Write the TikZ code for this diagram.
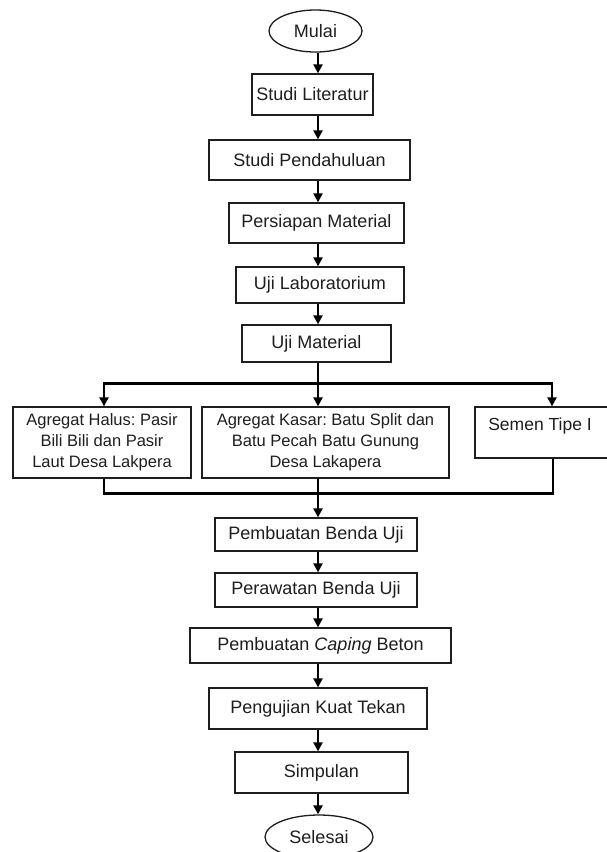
\documentclass[tikz,border=0pt]{standalone}
\usepackage{fontspec}
\setmainfont{Liberation Sans}
\usetikzlibrary{arrows.meta,shapes.geometric}
\definecolor{ink}{HTML}{1E1E1E}
\frenchspacing
\begin{document}
\begin{tikzpicture}[x=1pt,y=-1pt,
  box/.style={draw=ink,line width=1.3pt,rectangle,inner sep=0pt,text=ink,font=\fontsize{18}{21}\selectfont,align=center},
  sbox/.style={box,font=\fontsize{16.5}{21}\selectfont},
  term/.style={draw=ink,line width=1.3pt,ellipse,inner sep=0pt,text=ink,font=\fontsize{18}{21}\selectfont},
  arr/.style={draw=black,line width=2.5pt,-{Triangle[length=9pt,width=9pt]}},
  ln/.style={draw=black,line width=2.5pt}]
\useasboundingbox (0,0) rectangle (607,852);
\clip (0,0) rectangle (607,852);
\fill[white] (0,0) rectangle (607,852);
\coordinate (ax) at (318,0);
\node[term,minimum width=93,minimum height=42] (mulai) at (315.5,31) {Mulai};
\node[box,minimum width=121,minimum height=41] (lit) at (312.5,94.5) {Studi Literatur};
\node[box,minimum width=201,minimum height=40] (pend) at (309.5,160) {Studi Pendahuluan};
\node[box,minimum width=175,minimum height=40] (pers) at (316.5,223) {Persiapan Material};
\node[box,minimum width=168,minimum height=36] (lab) at (320,285) {Uji Laboratorium};
\node[box,minimum width=149,minimum height=37] (ujim) at (316.5,343.5) {Uji Material};
\node[sbox,minimum width=178,minimum height=71] (halus) at (102,442.5) {Agregat Halus: Pasir\\Bili Bili dan Pasir\\Laut Desa Lakpera};
\node[sbox,minimum width=247,minimum height=71] (kasar) at (325.5,442.5) {Agregat Kasar: Batu Split dan\\Batu Pecah Batu Gunung\\Desa Lakapera};
\node[box,minimum width=140,minimum height=51] (semen) at (545,432.5) {};
\node[text=ink,font=\fontsize{17.5}{21}\selectfont,inner sep=0pt] (sement) at (540,426) {Semen Tipe I};
\node[box,minimum width=202,minimum height=33] (benda) at (316,534.5) {Pembuatan Benda Uji};
\node[box,minimum width=202,minimum height=34] (rawat) at (316,590) {Perawatan Benda Uji};
\node[box,minimum width=261,minimum height=35] (caping) at (320.5,645.5) {Pembuatan \textit{Caping} Beton};
\node[box,minimum width=218,minimum height=41] (kuat) at (318,708.5) {Pengujian Kuat Tekan};
\node[box,minimum width=173,minimum height=41] (simp) at (321.5,772.5) {Simpulan};
\node[term,minimum width=108,minimum height=44] (selesai) at (319,837) {Selesai};
% main chain
\draw[arr] (mulai.south -| ax) -- (lit.north -| ax);
\draw[arr] (lit.south -| ax) -- (pend.north -| ax);
\draw[arr] (pend.south -| ax) -- (pers.north -| ax);
\draw[arr] (pers.south -| ax) -- (lab.north -| ax);
\draw[arr] (lab.south -| ax) -- (ujim.north -| ax);
% branch
\coordinate (bl) at (104,383.5);
\coordinate (br) at (552,383.5);
\coordinate (bc) at (318,383.5);
\draw[ln] (ujim.south -| ax) -- (bc);
\draw[ln,line cap=rect] (bl) -- (br);
\draw[arr] (bl) -- (halus.north -| bl);
\draw[arr] (bc) -- (kasar.north -| bc);
\draw[arr] (br) -- (semen.north -| br);
% merge
\coordinate (ml) at (104,493.5);
\coordinate (mr) at (553,493.5);
\draw[ln] (halus.south -| ml) -- (ml);
\draw[ln] (semen.south -| mr) -- (mr);
\draw[ln,line cap=rect] (ml) -- (mr);
\draw[arr] (kasar.south -| ax) -- (benda.north -| ax);
\draw[arr] (benda.south -| ax) -- (rawat.north -| ax);
\draw[arr] (rawat.south -| ax) -- (caping.north -| ax);
\draw[arr] (caping.south -| ax) -- (kuat.north -| ax);
\draw[arr] (kuat.south -| ax) -- (simp.north -| ax);
\draw[arr] (simp.south -| ax) -- (selesai.north -| ax);
\end{tikzpicture}
\end{document}
